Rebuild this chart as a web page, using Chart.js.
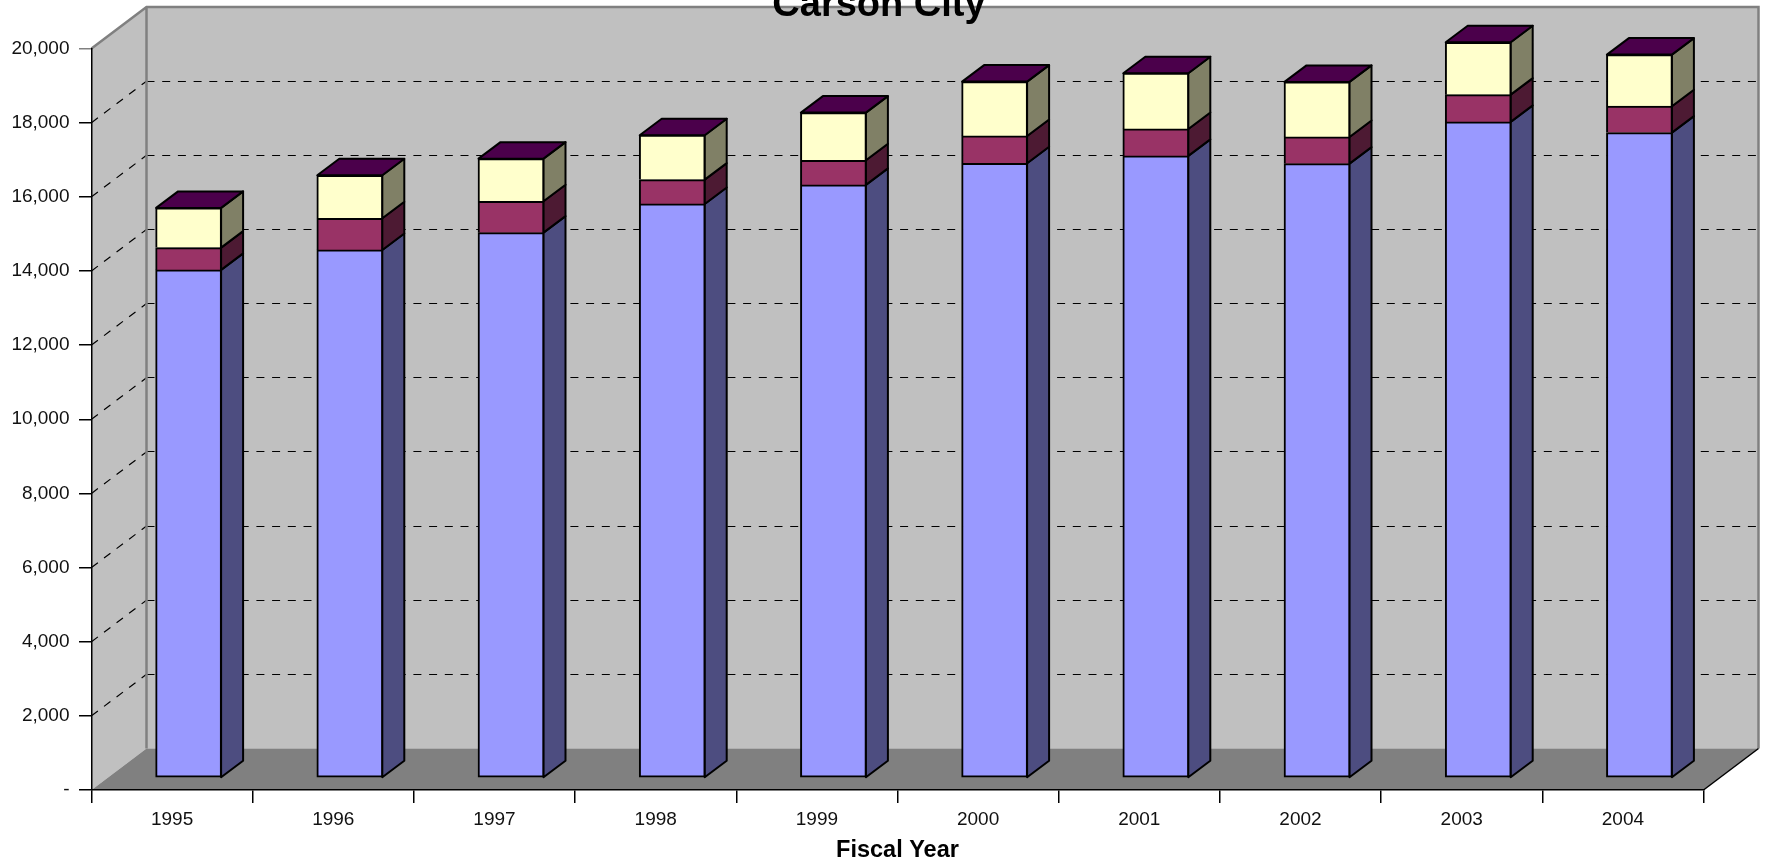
<!DOCTYPE html>
<html>
<head>
<meta charset="utf-8">
<title>Carson City</title>
<script src="https://cdn.jsdelivr.net/npm/chart.js@4"></script>
<style>
  html, body { margin: 0; padding: 0; background: #fff; overflow: hidden; }
  canvas { display: block; }
</style>
</head>
<body>
<canvas id="chart" width="1765" height="861"></canvas>
<script>
const years = ['1995', '1996', '1997', '1998', '1999', '2000', '2001', '2002', '2003', '2004'];
const lower = [13704, 14243, 14710, 15484, 15997, 16582, 16779, 16571, 17696, 17408];
const middle = [602, 855, 847, 656, 666, 736, 728, 720, 736, 712];
const upper = [1071, 1160, 1149, 1198, 1284, 1465, 1503, 1484, 1414, 1392];

// fake 3d: depth of the room and of the bars, in pixels
const roomDx = 55, roomDy = 41.5;
const barShiftX = 16.5, barShiftY = 12;
const barDx = 22, barDy = 16.5;

const fills = ['#9999ff', '#993366', '#ffffcc'];
const sides = ['#4d4d80', '#4d1a33', '#808066'];
const topFace = '#4b004b';

function poly(ctx, pts, fill, stroke, width) {
  ctx.beginPath();
  pts.forEach((p, i) => i ? ctx.lineTo(p[0], p[1]) : ctx.moveTo(p[0], p[1]));
  ctx.closePath();
  if (fill) { ctx.fillStyle = fill; ctx.fill(); }
  if (stroke) { ctx.strokeStyle = stroke; ctx.lineWidth = width; ctx.stroke(); }
}

const room = {
  id: 'room',
  beforeDraw(chart) {
    const { ctx, chartArea: a, scales: { y } } = chart;
    const bx = a.left + roomDx, by = a.bottom - roomDy, ty = a.top - roomDy, rx = a.right + roomDx;
    ctx.save();
    poly(ctx, [[a.left, a.bottom], [bx, by], [bx, ty], [a.left, a.top]], '#c0c0c0');
    poly(ctx, [[bx, ty], [rx, ty], [rx, by], [bx, by]], '#c0c0c0');
    poly(ctx, [[a.left, a.bottom], [a.right, a.bottom], [rx, by], [bx, by]], '#808080');

    // dashed gridlines along both walls
    ctx.strokeStyle = '#000';
    ctx.lineWidth = 1.2;
    ctx.setLineDash([8, 7.7]);
    y.ticks.forEach(t => {
      if (t.value === 0 || t.value === 20000) return;
      const py = y.getPixelForValue(t.value);
      const backY = Math.floor(py - roomDy) + 0.5;
      ctx.beginPath();
      ctx.moveTo(a.left, py);
      ctx.lineTo(bx, py - roomDy);
      ctx.stroke();
      ctx.beginPath();
      ctx.moveTo(bx, backY);
      ctx.lineTo(rx, backY);
      ctx.stroke();
    });
    ctx.setLineDash([]);

    // wall edges
    ctx.strokeStyle = '#808080';
    ctx.lineWidth = 2.5;
    ctx.beginPath();
    ctx.moveTo(a.left, a.top);
    ctx.lineTo(bx, ty);
    ctx.lineTo(rx, ty);
    ctx.lineTo(rx, by);
    ctx.moveTo(bx, ty);
    ctx.lineTo(bx, by);
    ctx.stroke();
    ctx.strokeStyle = '#000';
    ctx.lineWidth = 1.5;
    ctx.beginPath();
    ctx.moveTo(a.right, a.bottom);
    ctx.lineTo(rx, by);
    ctx.stroke();
    ctx.restore();
  },
  beforeDatasetsDraw(chart) {
    const ctx = chart.ctx;
    ctx.save();
    ctx.translate(barShiftX, -barShiftY);
    ctx.lineJoin = 'round';
    chart.data.datasets.forEach((ds, i) => {
      chart.getDatasetMeta(i).data.forEach(bar => {
        const r = bar.x + bar.width / 2 - 0.5, l = bar.x - bar.width / 2 + 0.5;
        poly(ctx, [[r, bar.base], [r, bar.y], [r + barDx, bar.y - barDy], [r + barDx, bar.base - barDy]], sides[i], '#000', 2);
        if (i === chart.data.datasets.length - 1) {
          poly(ctx, [[l, bar.y], [r, bar.y], [r + barDx, bar.y - barDy], [l + barDx, bar.y - barDy]], topFace, '#000', 2);
        }
      });
    });
  },
  afterDatasetsDraw(chart) {
    chart.ctx.restore();
  }
};

new Chart(document.getElementById('chart'), {
  type: 'bar',
  data: {
    labels: years,
    datasets: [lower, middle, upper].map((data, i) => ({
      data,
      backgroundColor: fills[i],
      borderColor: '#000',
      // only the bottom segment keeps a bottom edge, else the dividers double up
      borderWidth: { top: 2, left: 2, right: 2, bottom: i === 0 ? 2 : 0 },
      borderSkipped: false,
      barThickness: 66,
      clip: false
    }))
  },
  options: {
    responsive: false,
    animation: false,
    layout: { padding: { left: 0, right: 7, top: 0, bottom: 0 } },
    plugins: {
      legend: { display: false },
      tooltip: { enabled: false },
      title: {
        display: true,
        text: 'Carson City',
        color: '#000',
        font: { family: 'Liberation Sans', size: 38, weight: 'bold' },
        padding: { top: -17, bottom: 19.9 }
      }
    },
    scales: {
      x: {
        stacked: true,
        afterFit(s) { s.height = 71; },
        grid: { offset: true, drawOnChartArea: false, tickLength: 13, color: '#000', lineWidth: 1.5 },
        border: { color: '#000', width: 1.5 },
        ticks: { color: '#111', padding: 5, maxRotation: 0, font: { family: 'Liberation Sans', size: 19 } },
        title: {
          display: true,
          text: 'Fiscal Year',
          color: '#000',
          font: { family: 'Liberation Sans', size: 23.5, weight: 'bold' },
          padding: { top: 0, bottom: -4 }
        }
      },
      y: {
        stacked: true,
        min: 0,
        max: 20000,
        afterFit(s) { s.width = 91.5; },
        grid: {
          drawOnChartArea: false,
          tickLength: 12.5,
          lineWidth: 1.5,
          color: c => c.tick && c.tick.value === 20000 ? '#808080' : '#000'
        },
        border: { color: '#000', width: 1.5 },
        ticks: {
          stepSize: 2000,
          color: '#111',
          padding: 9.5,
          font: { family: 'Liberation Sans', size: 19 },
          callback: v => v === 0 ? '-' : v.toLocaleString('en-US')
        }
      },
      // empty axis, keeps the floor's right edge clear of the canvas side
      spacer: {
        type: 'linear',
        position: 'right',
        afterFit(s) { s.width = 54.5; },
        grid: { display: false },
        border: { display: false },
        ticks: { display: false }
      }
    }
  },
  plugins: [room]
});
</script>
</body>
</html>
